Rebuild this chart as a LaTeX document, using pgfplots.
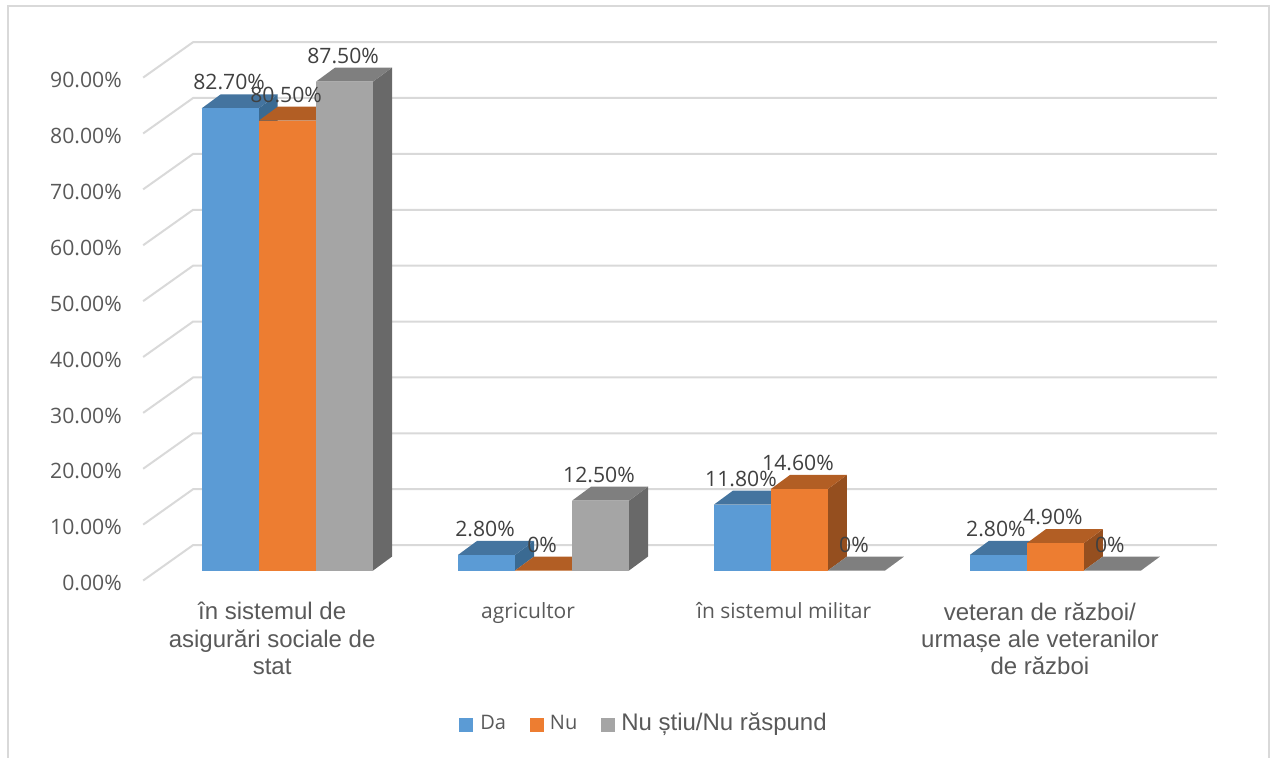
\documentclass[border=0pt]{standalone}
\usepackage{fontspec}
\setmainfont{Open Sans}
\newfontfamily\lib{Liberation Sans}
\usepackage{pgfplots}
\pgfplotsset{compat=1.18}

\definecolor{dablue}{HTML}{5B9BD5}
\definecolor{datop}{HTML}{44749F}
\definecolor{daside}{HTML}{3A6A92}
\definecolor{nuor}{HTML}{ED7D31}
\definecolor{nutop}{HTML}{B25E24}
\definecolor{nuside}{HTML}{954F1F}
\definecolor{nsgr}{HTML}{A5A5A5}
\definecolor{nstop}{HTML}{7F7F7F}
\definecolor{nsside}{HTML}{696969}
\definecolor{gridc}{HTML}{D9D9D9}
\definecolor{txt}{HTML}{595959}
\definecolor{vtxt}{HTML}{404040}

\newcommand{\catlib}{\lib\fontsize{12}{14}\selectfont}
\newcommand{\catos}{\fontsize{10.5}{14}\selectfont}

% x is in picture pixels, y in percent; one bar = front, top and side face
\newcommand{\cuboid}[5]{%
  \pgfmathsetmacro\xa{#1+57}%
  \pgfmathsetmacro\xb{#1+19}%
  \pgfmathsetmacro\xc{#1+76}%
  \pgfmathsetmacro\vb{#2+2.5}%
  \addplot[forget plot, fill=#5, draw=none] coordinates {(\xa,0) (\xc,2.5) (\xc,\vb) (\xa,#2)} --cycle;
  \addplot[forget plot, fill=#4, draw=none] coordinates {(#1,#2) (\xa,#2) (\xc,\vb) (\xb,\vb)} --cycle;
  \addplot[forget plot, fill=#3, draw=none] coordinates {(#1,0) (\xa,0) (\xa,#2) (#1,#2)} --cycle;
}
\newcommand{\wall}[1]{%
  \pgfmathsetmacro\va{#1-1.79}%
  \pgfmathsetmacro\vb{#1+4.56}%
  \addplot[forget plot, gridc, line width=1pt] coordinates {(143,\va) (193,\vb) (1217,\vb)};
}

\begin{document}
\begin{tikzpicture}
\begin{axis}[
    scale only axis, width=639.5pt, height=379pt,
    xmin=0, xmax=1279, ymin=-33.54, ymax=102.06,
    clip=false,
    axis line style={draw=none},
    major tick length=0pt,
    ytick={0,10,...,90},
    yticklabels={0.00\%,10.00\%,20.00\%,30.00\%,40.00\%,50.00\%,60.00\%,70.00\%,80.00\%,90.00\%},
    yticklabel style={anchor=east, inner sep=0pt, xshift=61pt, yshift=-6.3pt,
        text=txt, font=\fontsize{10.6}{12}\selectfont},
    xtick={272,528,784,1040},
    xticklabels={
        {\catlib în sistemul de\\[1.7pt]\catlib asigurări sociale de\\[1.7pt]\catlib stat},
        {\catos agricultor},
        {\catos în sistemul militar},
        {\catlib veteran de război/\\[1.7pt]\catlib urmașe ale veteranilor\\[1.7pt]\catlib de război}},
    xticklabel style={anchor=north, align=center, inner sep=0pt, yshift=78pt, text=txt},
    legend columns=3,
    legend style={at={(axis cs:645,-27.3)}, anchor=center, draw=none, fill=none,
        text=txt, inner sep=0pt, /tikz/every even column/.style={column sep=3pt}},
    legend cell align=left,
    legend image code/.code={\fill[#1, draw=none] (0pt,-4.5pt) rectangle (7pt,2.5pt);},
]
% outer frame
\addplot[forget plot, gridc, line width=1pt] coordinates {(8,-33.54) (8,101.07) (1269,101.07) (1269,-33.54)};

\wall{0}\wall{10}\wall{20}\wall{30}\wall{40}\wall{50}\wall{60}\wall{70}\wall{80}\wall{90}

% în sistemul de asigurări sociale de stat
\cuboid{201.5}{82.7}{dablue}{datop}{daside}
\cuboid{258.7}{80.5}{nuor}{nutop}{nuside}
\cuboid{316}{87.5}{nsgr}{nstop}{nsside}
% agricultor
\cuboid{458}{2.8}{dablue}{datop}{daside}
\cuboid{515}{0}{nuor}{nutop}{nuside}
\cuboid{572}{12.5}{nsgr}{nstop}{nsside}
% în sistemul militar
\cuboid{714}{11.8}{dablue}{datop}{daside}
\cuboid{771}{14.6}{nuor}{nutop}{nuside}
\cuboid{828}{0}{nsgr}{nstop}{nsside}
% veteran de război
\cuboid{970}{2.8}{dablue}{datop}{daside}
\cuboid{1027}{4.9}{nuor}{nutop}{nuside}
\cuboid{1084}{0}{nsgr}{nstop}{nsside}

% value labels
\addplot[forget plot, draw=none, mark=none, point meta=explicit symbolic,
    nodes near coords,
    every node near coord/.style={anchor=center, inner sep=0pt, yshift=13pt,
        text=vtxt, font=\fontsize{10.6}{12}\selectfont}]
coordinates {
    (229,82.7) [82.70\%]
    (286,80.5) [80.50\%]
    (343,87.5) [87.50\%]
    (485,2.8) [2.80\%]
    (542,0) [0\%]
    (599,12.5) [12.50\%]
    (741,11.8) [11.80\%]
    (798,14.6) [14.60\%]
    (854,0) [0\%]
    (996,2.8) [2.80\%]
    (1053,4.9) [4.90\%]
    (1110,0) [0\%]
};

\addlegendimage{fill=dablue}
\addlegendentry{\fontsize{10}{12}\selectfont\hspace*{1.5pt}\raisebox{-1pt}{Da}\hspace*{7pt}\null}
\addlegendimage{fill=nuor}
\addlegendentry{\fontsize{10}{12}\selectfont\hspace*{1pt}\raisebox{-1pt}{Nu}\hspace*{7pt}\null}
\addlegendimage{fill=nsgr}
\addlegendentry{\lib\fontsize{12}{12}\selectfont\hspace*{1pt}Nu știu/Nu răspund}
\end{axis}
\end{tikzpicture}
\end{document}
